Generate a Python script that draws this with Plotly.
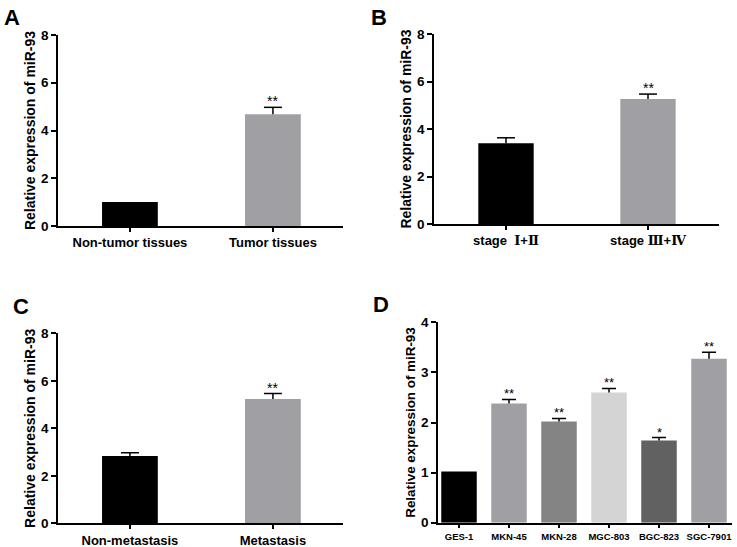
import plotly.graph_objects as go

W, H = 737, 547

# ---- data ----
a_cats = ["Non-tumor tissues", "Tumor tissues"]
a_vals = [1.0, 4.68]
a_err = [0.0, 0.29]
a_sig = ["", "**"]

b_cats = ["stage  <span style='font-family:DejaVu Serif'>Ⅰ</span>+<span style='font-family:DejaVu Serif'>Ⅱ</span>",
          "stage <span style='font-family:DejaVu Serif'>Ⅲ</span>+<span style='font-family:DejaVu Serif'>Ⅳ</span>"]
b_vals = [3.40, 5.26]
b_err = [0.23, 0.21]
b_sig = ["", "**"]

c_cats = ["Non-metastasis", "Metastasis"]
c_vals = [2.83, 5.23]
c_err = [0.14, 0.23]
c_sig = ["", "**"]

d_cats = ["GES-1", "MKN-45", "MKN-28", "MGC-803", "BGC-823", "SGC-7901"]
d_vals = [1.02, 2.38, 2.02, 2.60, 1.64, 3.27]
d_err = [0.0, 0.08, 0.06, 0.08, 0.06, 0.13]
d_sig = ["", "**", "**", "**", "*", "**"]

ab_colors = ["#000000", "#a0a0a4"]
d_colors = ["#000000", "#a0a0a4", "#848484", "#d4d4d4", "#616161", "#a0a0a4"]

FONT = "Arial, Liberation Sans, sans-serif"
YTITLE = "Relative expression of miR-93"

fig = go.Figure()

panels = [
    (a_cats, a_vals, a_err, a_sig, ab_colors, (58, 343, 35, 226), [-0.503, 1.49], 8, 2, 0.39, 13, 9, 14),
    (b_cats, b_vals, b_err, b_sig, ab_colors, (434, 719, 34, 224), [-0.507, 1.5], 8, 2, 0.39, 13, 9, 14),
    (c_cats, c_vals, c_err, c_sig, ab_colors, (58, 343, 333.3, 523.3), [-0.503, 1.49], 8, 2, 0.39, 13, 9, 14),
    (d_cats, d_vals, d_err, d_sig, d_colors, (438, 732, 322.3, 522.7), [-0.42, 5.46], 4, 1, 0.71, 9.5, 7, 13.4),
]

layout = dict(
    width=W, height=H, margin=dict(l=0, r=0, t=0, b=0, pad=0, autoexpand=False),
    paper_bgcolor="white", plot_bgcolor="white", showlegend=False,
    font=dict(family=FONT, color="black"),
)
annotations = []

for i, (cats, vals, err, sig, cols, box, xr, ymax, dt, bw, tfs, cwpx, tts) in enumerate(panels):
    n = "" if i == 0 else str(i + 1)
    x0, x1, yt, yb = box
    xs = list(range(len(cats)))
    fig.add_trace(go.Bar(
        x=xs, y=vals, width=bw, marker=dict(color=cols, line=dict(width=0)),
        xaxis="x" + n, yaxis="y" + n, hoverinfo="skip",
    ))
    # upward-only error bars (stem + cap) built from the data values
    px_per_unit = (x1 - x0) / (xr[1] - xr[0])
    cw = cwpx / px_per_unit
    ex, ey = [], []
    for xi, v, e in zip(xs, vals, err):
        if e > 0:
            ex += [xi, xi, None, xi - cw, xi + cw, None]
            ey += [v, v + e, None, v + e, v + e, None]
    fig.add_trace(go.Scatter(
        x=ex, y=ey, mode="lines", line=dict(color="black", width=1.5),
        xaxis="x" + n, yaxis="y" + n, hoverinfo="skip",
    ))
    layout["xaxis" + n] = dict(
        domain=[x0 / W, x1 / W], anchor="y" + n, range=xr, automargin=False,
        tickmode="array", tickvals=xs, ticktext=cats,
        showline=True, linecolor="black", linewidth=1.5, ticks="outside", ticklen=4,
        tickwidth=1.5, tickcolor="black", showgrid=False, zeroline=False,
        tickfont=dict(size=tfs, family=FONT, weight="bold"), fixedrange=True,
    )
    layout["yaxis" + n] = dict(
        domain=[1 - yb / H, 1 - yt / H], anchor="x" + n, range=[0, ymax], dtick=dt,
        automargin=False,
        showline=True, linecolor="black", linewidth=1.5, ticks="outside", ticklen=5,
        tickwidth=1.5, tickcolor="black", showgrid=False, zeroline=False,
        tickfont=dict(size=13.5, family=FONT, weight="bold"),
        title=dict(text=YTITLE, font=dict(size=tts, family=FONT, weight="bold"), standoff=2),
    )
    for xi, v, e, s in zip(xs, vals, err, sig):
        if s:
            annotations.append(dict(
                x=xi, y=v + e, xref="x" + n, yref="y" + n, text=s, showarrow=False,
                yanchor="bottom", yshift=-4, font=dict(size=14 if i < 3 else 13, family=FONT),
            ))

letters = [("A", 2, 3), ("B", 369, 3), ("C", 11, 292), ("D", 371, 290)]
for t, px, py in letters:
    annotations.append(dict(
        x=px / W, y=1 - py / H, xref="paper", yref="paper", text=t, showarrow=False,
        xanchor="left", yanchor="top", font=dict(size=22, family=FONT, weight="bold"),
    ))

layout["annotations"] = annotations
fig.update_layout(**layout)
fig.write_html("out.html", config={"displayModeBar": False},
               post_script="document.body.style.margin='0';")
